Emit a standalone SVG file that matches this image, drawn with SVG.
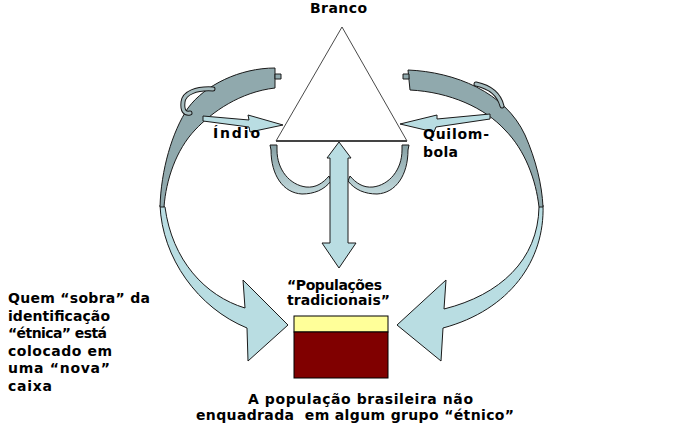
<svg xmlns="http://www.w3.org/2000/svg" width="676" height="438" viewBox="0 0 676 438">
<style>
.t{font-family:"DejaVu Sans","Liberation Sans",sans-serif;font-weight:bold;font-size:14px;fill:#000;white-space:pre}
.dk{fill:#90A9AD;stroke:#1a1a1a;stroke-width:1;stroke-linejoin:round}
.lt{fill:#B9DDE2;stroke:#1a1a1a;stroke-width:1;stroke-linejoin:round}
.hk{fill:url(#hg);stroke:#1a1a1a;stroke-width:1;stroke-linejoin:round}
.lp1{fill:none;stroke:#1a1a1a;stroke-width:5;stroke-linecap:round}
.lp2{fill:none;stroke:#A6BCBF;stroke-width:3;stroke-linecap:round}
</style>
<defs>
<linearGradient id="hg" x1="0" y1="0" x2="0" y2="1">
<stop offset="0" stop-color="#86A0A4"/>
<stop offset="1" stop-color="#C2D9DC"/>
</linearGradient>
</defs>
<rect width="676" height="438" fill="#fff"/>
<g id="connectors">
<g id="arrow-left">
<path class="lt" d="M160,205 C162,258 198,308 247,328 L248,361 L288,325 L243,280 L245,308 C205,296 172,260 165,207 Z"/>
<path class="dk" d="M275,68 C240,68 205,85 188,108 C172,132 161,170 160,207 L164,207 C166,180 176,150 195,130 C212,112 240,92 275,88 Z"/>
<rect class="dk" x="275" y="74" width="6" height="5"/>
<path class="lp1" d="M213,89 C196,88 184,93 183,102 C182,111 185,114 190,113"/>
<path class="lp2" d="M213,89 C196,88 184,93 183,102 C182,111 185,114 190,113"/>
</g>
<g id="arrow-right">
<path class="lt" d="M543,205 C545,260 510,310 443,328 L441,361 L397,325 L446,280 L444,309 C500,295 538,260 539,207 Z"/>
<path class="dk" d="M408,70 C455,72 505,92 525,135 C536,160 542,185 543,207 L539,207 C536,180 525,150 505,130 C485,108 450,92 410,90 Z"/>
<rect class="dk" x="403" y="74" width="6" height="5"/>
<path class="lp1" d="M476,84 C490,87 499,94 502,106"/>
<path class="lp2" d="M476,84 C490,87 499,94 502,106"/>
</g>
</g>
<g id="triangle">
<polygon points="342,27 276,141 407,141" fill="#fff" stroke="#1a1a1a" stroke-width="0.8"/>
<line x1="276" y1="141" x2="407" y2="141" stroke="#444" stroke-width="2"/>
</g>
<g id="connectors-small">
<path class="lt" d="M203,116 L249,120 L248,115 L283,125 L250,132 L249,127 L203,121 Z"/>
<path class="lt" d="M490,114 L437,119 L437,115 L400,124 L434,132 L436,127 L490,119 Z"/>
<path class="hk" d="M270,145 L277,145 L277,150 C277,170 290,185 306,187 C316,188 323,183 329,176 L331,181 C324,190 314,194 302,194 C283,193 271,175 271,150 Z"/>
<path class="hk" transform="translate(679,0) scale(-1,1)" d="M270,145 L277,145 L277,150 C277,170 290,185 306,187 C316,188 323,183 329,176 L331,181 C324,190 314,194 302,194 C283,193 271,175 271,150 Z"/>
<path class="lt" d="M339,142 L351,158 L348,158 L348,243 L356,243 L339,268 L322,243 L330,243 L330,158 L327,158 Z"/>
</g>
<g id="box">
<rect x="294" y="316" width="94" height="16" fill="#FFFF99" stroke="#000" stroke-width="1"/>
<rect x="294" y="332" width="94" height="46" fill="#800000" stroke="#000" stroke-width="1"/>
</g>
<g id="labels">
<text class="t" x="310" y="13" textLength="57" lengthAdjust="spacing">Branco</text>
<text class="t" x="213" y="138" textLength="47" lengthAdjust="spacing">Índio</text>
<text class="t" x="423" y="139" textLength="66" lengthAdjust="spacing">Quilom-</text>
<text class="t" x="423" y="157" textLength="35" lengthAdjust="spacing">bola</text>
<text class="t" x="287" y="290" textLength="95" lengthAdjust="spacing">“Populações</text>
<text class="t" x="287" y="305" textLength="103" lengthAdjust="spacing">tradicionais”</text>
<text class="t" x="248" y="404" textLength="225" lengthAdjust="spacing">A população brasileira não</text>
<text class="t" x="196" y="420" textLength="318" lengthAdjust="spacing" xml:space="preserve">enquadrada  em algum grupo “étnico”</text>
<text class="t" x="8" y="303" textLength="142" lengthAdjust="spacing">Quem “sobra” da</text>
<text class="t" x="8" y="321" textLength="102" lengthAdjust="spacing">identificação</text>
<text class="t" x="8" y="338" textLength="99" lengthAdjust="spacing">“étnica” está</text>
<text class="t" x="8" y="356" textLength="104" lengthAdjust="spacing">colocado em</text>
<text class="t" x="8" y="373" textLength="102" lengthAdjust="spacing">uma “nova”</text>
<text class="t" x="8" y="391" textLength="44" lengthAdjust="spacing">caixa</text>
</g>
</svg>
